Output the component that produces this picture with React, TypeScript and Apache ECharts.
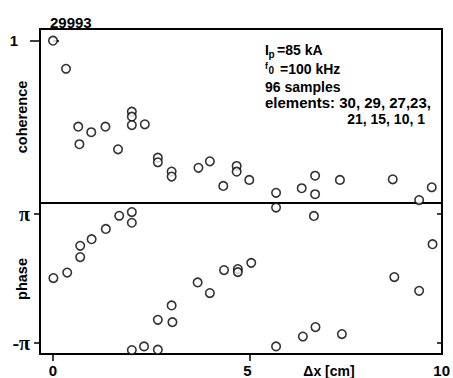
import React, { useEffect, useRef } from "react";
import * as echarts from "echarts";

// Coherence panel (Δx [cm], coherence)
const coherenceX = [0.0, 0.33, 0.64, 0.67, 0.97, 1.33, 1.65, 2.0, 2.0, 2.0, 2.33, 2.66, 2.66, 3.01, 3.01, 3.69, 3.98, 4.32, 4.66, 4.66, 4.98, 5.66, 6.31, 6.65, 6.65, 7.28, 8.62, 9.29, 9.61];
const coherenceY = [1.0, 0.827, 0.47, 0.362, 0.436, 0.47, 0.331, 0.563, 0.532, 0.48, 0.485, 0.279, 0.251, 0.194, 0.163, 0.217, 0.257, 0.105, 0.228, 0.193, 0.142, 0.063, 0.091, 0.168, 0.054, 0.142, 0.146, 0.018, 0.097];

// Phase panel (Δx [cm], phase in rad)
const phaseX = [0.01, 0.36, 0.69, 0.69, 0.98, 1.34, 1.68, 2.0, 2.0, 2.0, 2.31, 2.66, 2.66, 3.01, 3.03, 3.67, 3.98, 4.34, 4.69, 4.69, 5.03, 5.66, 5.66, 6.34, 6.62, 6.66, 7.33, 8.66, 9.29, 9.63];
const phaseY = [0.02, 0.29, 1.59, 1.04, 1.91, 2.41, 3.05, 3.23, 2.71, -3.48, -3.3, -3.46, -2.01, -1.31, -2.12, -0.19, -0.71, 0.41, 0.46, 0.31, 0.76, 3.45, -3.3, -2.82, 3.04, -2.36, -2.7, 0.07, -0.6, 1.67];

const xTickLabels = [0, 5, 10];
const xTicks = [0, 5];
const coherenceTicks = [1];
const phaseTicks = [-Math.PI, Math.PI];

const annotationLines = ["96 samples", "elements: 30, 29, 27,23,", "21, 15, 10, 1"];

const FONT = "'Liberation Sans', Arial, sans-serif";
const SERIF = "'Liberation Serif', 'DejaVu Serif', serif";

export default function App() {
  const ref = useRef<HTMLDivElement>(null);

  useEffect(() => {
    if (!ref.current) return;
    const chart = echarts.init(ref.current, undefined, { renderer: "svg" });

    const markerStyle = {
      color: "#ffffff",
      borderColor: "#000000",
      borderWidth: 1.6,
    };

    const frameLine = { show: true, onZero: false, lineStyle: { color: "#000", width: 2 } };
    const tickStyle = { color: "#000", width: 1.5 };

    const txt = (x: number, y: number, text: string, size: number, extra: any = {}) => ({
      type: "text",
      x,
      y,
      style: { text, fontFamily: FONT, fontWeight: "bold", fontSize: size, fill: "#000", verticalAlign: "middle", ...extra },
    });

    const option: any = {
      animation: false,
      backgroundColor: "#ffffff",
      grid: [
        { left: 40, right: 11, top: 29, height: 174, show: false },
        { left: 40, right: 11, top: 203, height: 151, show: false },
        { left: 53, right: 6, top: 353, height: 1, show: false },
      ],
      xAxis: [
        { type: "value", gridIndex: 0, min: -0.33, max: 9.87, position: "bottom", axisLine: frameLine, axisTick: { show: false }, axisLabel: { show: false }, splitLine: { show: false } },
        { type: "value", gridIndex: 0, min: -0.33, max: 9.87, position: "top", axisLine: frameLine, axisTick: { show: false }, axisLabel: { show: false }, splitLine: { show: false } },
        {
          type: "value",
          gridIndex: 1,
          min: -0.33,
          max: 9.87,
          position: "bottom",
          axisLine: frameLine,
          axisTick: { show: true, customValues: xTicks, length: 7, lineStyle: tickStyle },
          axisLabel: { show: false },
          splitLine: { show: false },
        },
        {
          type: "value",
          gridIndex: 2,
          min: 0,
          max: 10,
          interval: 5,
          axisLine: { show: false, onZero: false },
          axisTick: { show: false },
          splitLine: { show: false },
          axisLabel: {
            show: true,
            customValues: xTickLabels,
            margin: 10,
            color: "#000",
            fontFamily: FONT,
            fontWeight: "bold",
            fontSize: 15,
          },
        },
      ],
      yAxis: [
        {
          type: "value",
          gridIndex: 0,
          min: 0,
          max: 1.072,
          position: "left",
          axisLine: frameLine,
          axisTick: { show: true, customValues: coherenceTicks, length: 10, lineStyle: tickStyle },
          axisLabel: {
            show: true,
            customValues: coherenceTicks,
            margin: 22,
            color: "#000",
            fontFamily: FONT,
            fontWeight: "bold",
            fontSize: 15,
          },
          splitLine: { show: false },
        },
        {
          type: "value",
          gridIndex: 0,
          min: 0,
          max: 1.072,
          position: "right",
          axisLine: frameLine,
          axisTick: { show: false },
          axisLabel: { show: false },
          splitLine: { show: false },
        },
        {
          type: "value",
          gridIndex: 1,
          min: -3.67,
          max: 3.67,
          position: "left",
          axisLine: frameLine,
          axisTick: { show: true, customValues: phaseTicks, length: 6, lineStyle: tickStyle },
          axisLabel: {
            show: true,
            customValues: phaseTicks,
            margin: 10,
            color: "#000",
            fontFamily: SERIF,
            fontWeight: "bold",
            fontSize: 20,
            formatter: (v: number) => (v > 0 ? "π" : "-π"),
          },
          splitLine: { show: false },
        },
        {
          type: "value",
          gridIndex: 1,
          position: "right",
          min: -3.67,
          max: 3.67,
          axisLine: frameLine,
          axisTick: { show: true, inside: true, customValues: phaseTicks, length: 5, lineStyle: tickStyle },
          axisLabel: { show: false },
          splitLine: { show: false },
        },
        { type: "value", gridIndex: 2, min: 0, max: 1, axisLine: { show: false }, axisTick: { show: false }, axisLabel: { show: false }, splitLine: { show: false } },
        {
          type: "value",
          gridIndex: 0,
          min: 0,
          max: 1.072,
          position: "left",
          axisLine: { show: false },
          axisTick: { show: true, inside: true, customValues: coherenceTicks, length: 6, lineStyle: tickStyle },
          axisLabel: { show: false },
          splitLine: { show: false },
        },
      ],
      series: [
        {
          type: "scatter",
          name: "coherence",
          xAxisIndex: 0,
          yAxisIndex: 0,
          symbol: "circle",
          symbolSize: 8.5,
          clip: false,
          itemStyle: markerStyle,
          data: coherenceX.map((x, i) => [x, coherenceY[i]]),
        },
        {
          type: "scatter",
          name: "phase",
          xAxisIndex: 2,
          yAxisIndex: 2,
          symbol: "circle",
          symbolSize: 8.5,
          clip: false,
          itemStyle: markerStyle,
          data: phaseX.map((x, i) => [x, phaseY[i]]),
        },
      ],
      graphic: [
        txt(50, 22, "29993", 15),
        {
          type: "text",
          x: 22,
          y: 117,
          rotation: Math.PI / 2,
          style: { text: "coherence", fontFamily: FONT, fontWeight: "bold", fontSize: 14.5, fill: "#000", align: "center", verticalAlign: "middle" },
        },
        {
          type: "text",
          x: 22,
          y: 279,
          rotation: Math.PI / 2,
          style: { text: "phase", fontFamily: FONT, fontWeight: "bold", fontSize: 14.5, fill: "#000", align: "center", verticalAlign: "middle" },
        },
        txt(329, 371, "Δx [cm]", 14, { align: "center" }),
        txt(265, 50, "I", 14),
        txt(268.5, 54, "p", 10),
        txt(277, 50, "=85 kA", 14),
        txt(265, 66, "f", 9),
        txt(268.5, 70, "0", 10),
        txt(280, 68.5, "=100 kHz", 14),
        txt(265, 86.5, annotationLines[0], 14),
        txt(265, 102.5, annotationLines[1], 15),
        txt(425, 118.5, annotationLines[2], 14, { align: "right" }),
      ],
    };

    chart.setOption(option);
    return () => chart.dispose();
  }, []);

  return (
    <div
      ref={ref}
      style={{ position: "fixed", left: 0, top: 0, width: 453, height: 378, background: "#fff" }}
    />
  );
}
